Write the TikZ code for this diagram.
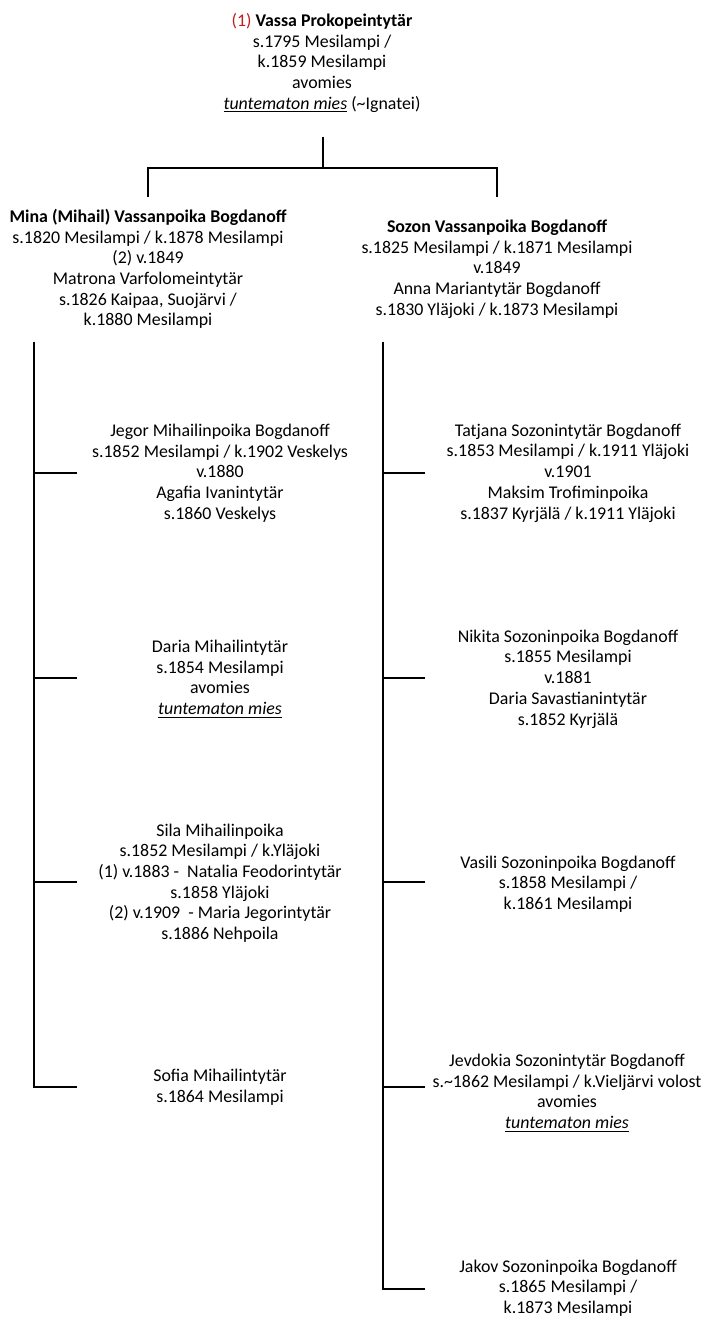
\documentclass[tikz,border=0pt]{standalone}
\usepackage{fontspec}
\setmainfont{Carlito}
\usepackage{tikz}
\definecolor{numred}{RGB}{192,30,30}
\tikzset{person/.style={align=center,inner sep=0pt,font=\fontsize{11.4}{13.2}\selectfont}}
\newcommand{\unknownman}{\underline{\textit{tuntematon mies}}}

\begin{document}
\begin{tikzpicture}[x=0.638pt,y=-0.638pt,line width=1pt]
        \useasboundingbox (0,0) rectangle (706,1320);
    %mother
    \node[person] (vassa) at (322,63) {\textcolor{numred}{(1)} \textbf{Vassa Prokopeintytär}\\ s.1795 Mesilampi /\\ k.1859 Mesilampi\\ avomies\\ \unknownman{} (\textasciitilde Ignatei)};
    \coordinate (vassaS) at (323,137);
    \coordinate (bar) at (323,168);
    \coordinate (minaN) at (148,197);
    \coordinate (sozonN) at (497,197);
    \draw (vassaS) -- (bar);
    \draw (minaN) |- (bar) -| (sozonN);
    %sons
    \node[person] (mina) at (148,269) {\textbf{Mina (Mihail) Vassanpoika Bogdanoff}\\ s.1820 Mesilampi / k.1878 Mesilampi\\ (2) v.1849\\ Matrona Varfolomeintytär\\ s.1826 Kaipaa, Suojärvi /\\ k.1880 Mesilampi};
    \node[person] (sozon) at (497,269) {\textbf{Sozon Vassanpoika Bogdanoff}\\ s.1825 Mesilampi / k.1871 Mesilampi\\ v.1849\\ Anna Mariantytär Bogdanoff\\ s.1830 Yläjoki / k.1873 Mesilampi};
    \coordinate (minaL) at (34,342);
    \coordinate (sozonL) at (383,342);
    %grandchildren of mina
    \node[person] (jegor) at (220,473) {Jegor Mihailinpoika Bogdanoff\\ s.1852 Mesilampi / k.1902 Veskelys\\ v.1880\\ Agafia Ivanintytär\\ s.1860 Veskelys};
    \node[person] (daria) at (220,679) {Daria Mihailintytär\\ s.1854 Mesilampi\\ avomies\\ \unknownman};
    \node[person] (sila) at (220,883) {Sila Mihailinpoika\\ s.1852 Mesilampi / k.Yläjoki\\ (1) v.1883 -\ \ Natalia Feodorintytär\\ s.1858 Yläjoki\\ (2) v.1909\ \ - Maria Jegorintytär\\ s.1886 Nehpoila};
    \node[person] (sofia) at (220,1087) {Sofia Mihailintytär\\ s.1864 Mesilampi};
    %grandchildren of sozon
    \node[person] (tatjana) at (568,473) {Tatjana Sozonintytär Bogdanoff\\ s.1853 Mesilampi / k.1911 Yläjoki\\ v.1901\\ Maksim Trofiminpoika\\ s.1837 Kyrjälä / k.1911 Yläjoki};
    \node[person] (nikita) at (568,679) {Nikita Sozoninpoika Bogdanoff\\ s.1855 Mesilampi\\ v.1881\\ Daria Savastianintytär\\ s.1852 Kyrjälä};
    \node[person] (vasili) at (568,884) {Vasili Sozoninpoika Bogdanoff\\ s.1858 Mesilampi /\\ k.1861 Mesilampi};
    \node[person] (jevdokia) at (567,1093) {Jevdokia Sozonintytär Bogdanoff\\ s.\textasciitilde 1862 Mesilampi / k.Vieljärvi volost\\ avomies\\ \unknownman};
    \node[person] (jakov) at (568,1288) {Jakov Sozoninpoika Bogdanoff\\ s.1865 Mesilampi /\\ k.1873 Mesilampi};
    %ticks
    \foreach \kid/\y in {jegor/473, daria/678, sila/882, sofia/1087} {
        \coordinate (\kid T) at (77,\y);
        \draw (minaL) |- (\kid T);}
    \foreach \kid/\y in {tatjana/473, nikita/678, vasili/882, jevdokia/1087, jakov/1289} {
        \coordinate (\kid T) at (425,\y);
        \draw (sozonL) |- (\kid T);}
\end{tikzpicture}
\end{document}
